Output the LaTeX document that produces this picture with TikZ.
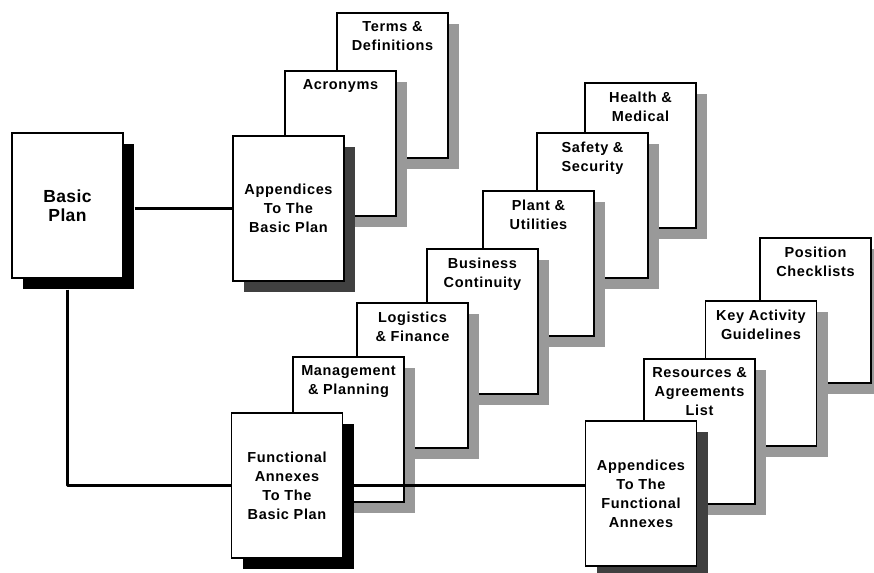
\documentclass[tikz,border=0pt]{standalone}
\usepackage{fontspec}
\newfontfamily\lblfont[LetterSpace=4.5]{Liberation Sans}
\newfontfamily\bigfont[LetterSpace=2]{Liberation Sans}
\usetikzlibrary{shadows}
\newcommand{\lblsize}{\lblfont\bfseries\fontsize{14.5}{19}\selectfont}
\newcommand{\bigsize}{\bigfont\bfseries\fontsize{17.5}{19}\selectfont}
\begin{document}
\begin{tikzpicture}[x=1pt,y=-1pt,
  page/.style={draw=black, line width=1.1pt, fill=white, minimum width=111pt,
    minimum height=145pt, inner sep=0pt, align=center, font=\lblsize},
  blacksh/.style={drop shadow={shadow xshift=11pt, shadow yshift=-11pt, fill=black, opacity=1, draw=none}},
  darksh/.style={drop shadow={shadow xshift=11pt, shadow yshift=-11pt, fill=black!75, opacity=1, draw=none}},
  lightsh/.style={drop shadow={shadow xshift=11pt, shadow yshift=-11pt, fill=black!40, opacity=1, draw=none}},
  toptext/.style={label={[anchor=north, inner sep=0pt, yshift=-9pt, align=center, font=\lblsize]north:{#1}}},
  conn/.style={line width=3pt, line join=round}
]
\useasboundingbox (0,0) rectangle (874,572);

% Basic plan
\node[page, blacksh, font=\bigsize] (basic) at (67.5,205.5) {Basic\\Plan};

% Appendices to the basic plan stack
\node[page, lightsh, toptext={Terms \&\\Definitions}] (terms) at (392.5,85.5) {};
\node[page, lightsh, toptext={Acronyms}] (acro) at (340.5,143.5) {};
\node[page, darksh] (appbp) at (288.5,208.5) {Appendices\\To The\\Basic Plan};

% Functional annexes stack
\node[page, lightsh, toptext={Health \&\\Medical}] (health) at (640.5,155.5) {};
\node[page, lightsh, toptext={Safety \&\\Security}] (safety) at (592.5,205.5) {};
\node[page, lightsh, toptext={Plant \&\\Utilities}] (plant) at (538.5,263.5) {};
\node[page, lightsh, toptext={Business\\Continuity}] (bus) at (482.5,321.5) {};
\node[page, lightsh, toptext={Logistics\\\& Finance}] (logi) at (412.5,375.5) {};
\node[page, lightsh, toptext={Management\\\& Planning}] (mgmt) at (348.5,429.5) {};
\node[page, blacksh] (fa) at (287,485.5) {Functional\\Annexes\\To The\\Basic Plan};

% Appendices to the functional annexes stack
\node[page, lightsh, toptext={Position\\Checklists}] (pos) at (815.5,310.5) {};
\node[page, lightsh, toptext={Key Activity\\Guidelines}] (key) at (761,373.5) {};
\node[page, lightsh, toptext={Resources \&\\Agreements\\List}] (res) at (699.5,431.5) {};
\node[page, darksh] (appfa) at (641,493.5) {Appendices\\To The\\Functional\\Annexes};

% Connectors
\draw[conn] ([xshift=11pt]basic.east |- appbp.west) -- (appbp.west);
\draw[conn] ([yshift=-11pt]basic.south) |- (fa.west);
\draw[conn] ([xshift=11pt]fa.east) -- (appfa.west |- fa.east);
\end{tikzpicture}
\end{document}
